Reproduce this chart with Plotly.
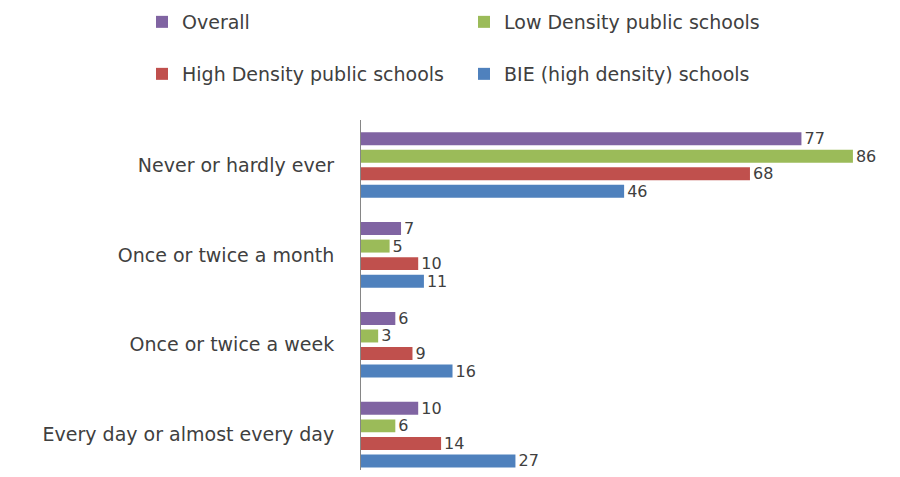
import plotly.graph_objects as go

categories = ["Never or hardly ever", "Once or twice a month", "Once or twice a week", "Every day or almost every day"]
overall = [77, 7, 6, 10]
low_density = [86, 5, 3, 6]
high_density = [68, 10, 9, 14]
bie = [46, 11, 16, 27]

series = [
    ("Overall", overall, "#8064A2", "legend"),
    ("Low Density public schools", low_density, "#9BBB59", "legend2"),
    ("High Density public schools", high_density, "#C0504D", "legend3"),
    ("BIE (high density) schools", bie, "#4F81BD", "legend4"),
]

FONT = "DejaVu Sans"
FS = 19
fig = go.Figure()
for name, vals, color, lg in series:
    fig.add_trace(go.Bar(
        y=categories, x=vals, name=name, orientation="h",
        marker=dict(color=color, line=dict(width=0)),
        text=[str(v) for v in vals], textposition="outside",
        textfont=dict(family=FONT, size=16, color="#404040"),
        constraintext="none", cliponaxis=False, legend=lg,
    ))

W, H = 900, 477
L, R, T, B = 361, 10, 120, 7
pw = W - L - R
ph = H - T - B
px_per_unit = 5.72
px_per_cat = 89.9

def leg(xpx, ypx):
    return dict(orientation="h", xref="container", yref="container",
                x=xpx / W, y=1 - ypx / H, xanchor="left", yanchor="middle",
                itemwidth=30,
                font=dict(family=FONT, size=FS, color="#404040"),
                bgcolor="rgba(0,0,0,0)")

fig.update_layout(
    width=W, height=H,
    margin=dict(l=L, r=R, t=T, b=B),
    paper_bgcolor="white", plot_bgcolor="white",
    barmode="group", bargap=0.22, bargroupgap=0.26,
    font=dict(family=FONT, size=FS, color="#404040"),
    showlegend=True,
    legend=leg(142, 22),
    legend2=leg(464, 22),
    legend3=leg(142, 74),
    legend4=leg(464, 74),
    xaxis=dict(range=[0, pw / px_per_unit], visible=False, showgrid=False, zeroline=False),
    yaxis=dict(range=[ph / px_per_cat - 0.5, -0.5], type="category",
               showline=True, linecolor="#868686", linewidth=1,
               showgrid=False, zeroline=False, ticks="",
               ticklabelstandoff=22,
               tickfont=dict(family=FONT, size=FS, color="#404040")),
)

fig.write_html("out.html")
